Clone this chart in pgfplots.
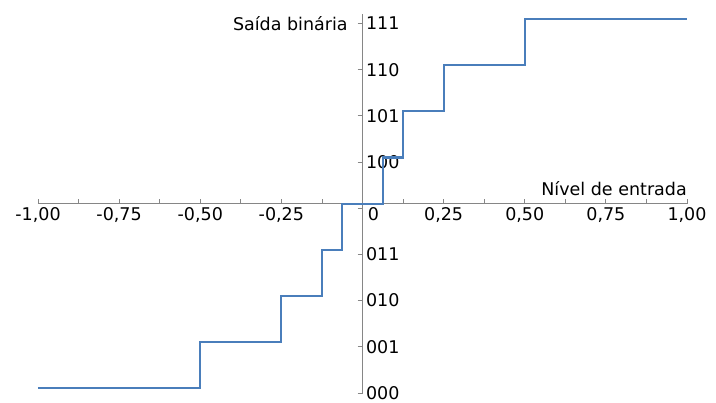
\documentclass[border=0pt]{standalone}
\usepackage{pgfplots}
\pgfplotsset{compat=1.18}
\usepackage{fontspec}
\setmainfont{DejaVu Sans}
\definecolor{axgray}{RGB}{134,134,134}
\definecolor{lineblue}{RGB}{74,126,187}
\newcommand{\lblfont}{\fontsize{17.5bp}{20bp}\selectfont}
\begin{document}
\begin{tikzpicture}
\begin{axis}[
  scale only axis, width=649bp, height=378.8bp,
  xmin=-1, xmax=1, ymin=-4.1, ymax=4.1,
  axis lines=middle,
  axis line style={-, draw=axgray, line width=0.8bp},
  every inner x axis line/.append style={-},
  every inner y axis line/.append style={-},
  hide obscured x ticks=false, hide obscured y ticks=false,
  xtick={-1,-0.75,-0.5,-0.25,0,0.25,0.5,0.75,1},
  xticklabels={{-1,00},{-0,75},{-0,50},{-0,25},{},{0,25},{0,50},{0,75},{1,00}},
  minor xtick={-0.875,-0.625,-0.375,-0.125,0.125,0.375,0.625,0.875},
  ytick={-4.1,-3.1,-2.1,-1.1,-0.1,0.9,1.9,2.9,3.9},
  yticklabels={000,001,010,011,{},100,101,110,111},
  extra x ticks={0}, extra x tick labels={0},
  extra x tick style={xticklabel style={xshift=11bp}},
  tick align=inside, major tick length=5bp, minor tick length=5bp,
  xtick style={draw=axgray, line width=0.8bp},
  ytick style={draw=axgray, line width=0.8bp, xshift=-5bp},
  tick label style={font=\lblfont, text=black},
  yticklabel style={anchor=west},
  xticklabel style={anchor=north},
  clip=false,
]
\addplot[const plot, lineblue, line width=2.2bp] coordinates {
  (-1,-4) (-0.5,-3) (-0.25,-2) (-0.125,-1) (-0.0625,0)
  (0.0625,1) (0.125,2) (0.25,3) (0.5,4) (1,4)};
\node[anchor=east, inner sep=0, font=\lblfont] at (axis cs:-0.045,3.9) {Saída binária};
\node[anchor=east, inner sep=0, font=\lblfont] at (axis cs:1,0.325) {Nível de entrada};
\end{axis}
\pgfresetboundingbox
\useasboundingbox ([shift={(-38bp,-10bp)}]current axis.south west) rectangle ++(716bp,403bp);
\end{tikzpicture}
\end{document}
